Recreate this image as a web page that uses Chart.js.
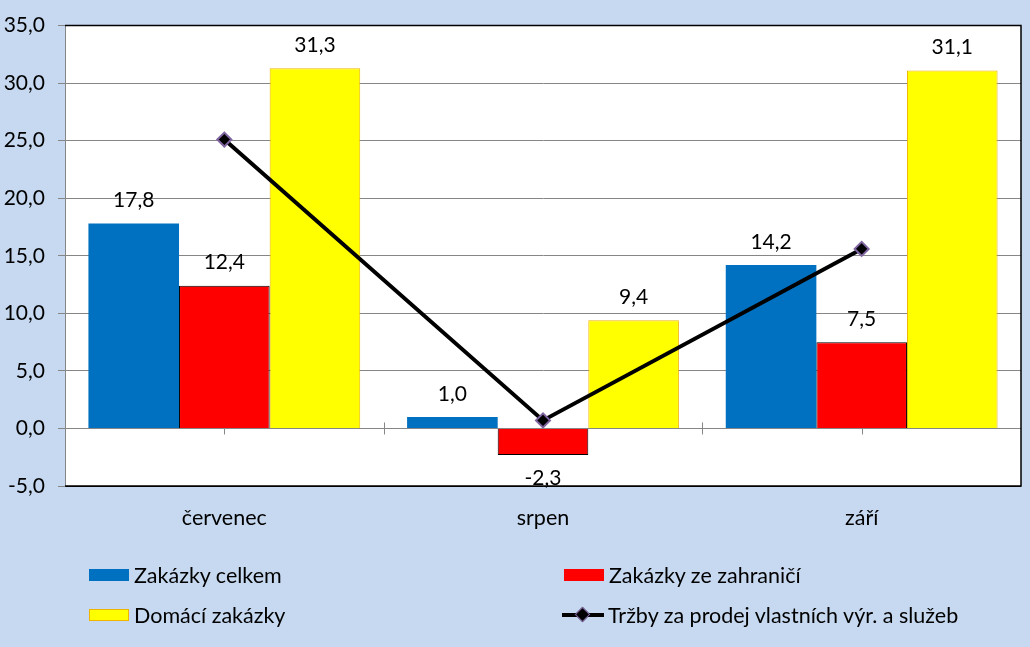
<!DOCTYPE html>
<html>
<head>
<meta charset="utf-8">
<script src="https://cdn.jsdelivr.net/npm/chart.js@4/dist/chart.umd.min.js"></script>
<style>
    body { margin: 0; background: #c6d9f0; }
    #wrap { position: relative; width: 1030px; height: 647px; }
    #legend { position: absolute; left: 0; top: 0; width: 1030px; height: 647px; pointer-events: none;
        font-family: Lato, "Open Sans", sans-serif; font-size: 21.5px; color: #000; }
    .item { position: absolute; display: flex; align-items: center; height: 24px; }
    .sw { width: 40px; height: 12px; margin-right: 5px; box-sizing: border-box; }
    .ln { width: 42px; height: 16px; margin-right: 4px; position: relative; }
    .ln:before { content: ""; position: absolute; left: 0; right: 0; top: 6px; height: 4px; background: #000; }
    .ln:after { content: ""; position: absolute; left: 15px; top: 2px; width: 9px; height: 9px; background: #000;
        border: 1px solid #7f64a0; transform: rotate(45deg); }
</style>
</head>
<body>
<div id="wrap">
    <canvas id="chart" width="1030" height="647"></canvas>
    <div id="legend"></div>
</div>
<script>
const categories = ["červenec", "srpen", "září"];
const zakazkyCelkem = [17.8, 1.0, 14.2];
const zakazkyZahranici = [12.4, -2.3, 7.5];
const domaciZakazky = [31.3, 9.4, 31.1];
const trzby = [25.1, 0.7, 15.6];
const seriesNames = ["Zakázky celkem", "Zakázky ze zahraničí", "Domácí zakázky", "Tržby za prodej vlastních výr. a služeb"];
const yMin = -5, yMax = 35, yStep = 5;

const FONT = 'Lato, "Open Sans", sans-serif';

function fmt(v) {
    return v.toFixed(1).replace(".", ",");
}

// values above/below bars
const barLabels = {
    id: "barLabels",
    afterDatasetsDraw(chart) {
        const ctx = chart.ctx;
        ctx.save();
        ctx.font = "21px " + FONT;
        ctx.fillStyle = "#000";
        ctx.textAlign = "center";
        ctx.textBaseline = "middle";
        chart.data.datasets.forEach((ds, i) => {
            if (ds.type === "line") return;
            chart.getDatasetMeta(i).data.forEach((bar, j) => {
                const v = ds.data[j];
                const y = v >= 0 ? bar.y - 23 : bar.y + 23;
                ctx.fillText(fmt(v), bar.x, y);
            });
        });
        ctx.restore();
    }
};

// black frame right side + small ticks on zero line
const frame = {
    id: "frame",
    beforeDatasetsDraw(chart) {
        const { ctx, chartArea: a, scales } = chart;
        const y0 = scales.y.getPixelForValue(0);
        ctx.save();
        ctx.strokeStyle = "#868686";
        ctx.lineWidth = 1;
        const n = categories.length * 2;
        for (let k = 1; k < n; k++) {
            const x = Math.round(a.left + (a.right - a.left) * k / n) + 0.5;
            ctx.beginPath();
            ctx.moveTo(x, y0 - 6);
            ctx.lineTo(x, y0 + 6);
            ctx.stroke();
        }
        ctx.restore();
    },
    afterDraw(chart) {
        const { ctx, chartArea: a } = chart;
        ctx.save();
        ctx.strokeStyle = "#000";
        ctx.lineWidth = 1.5;
        ctx.beginPath();
        ctx.moveTo(a.left, a.top);
        ctx.lineTo(a.right, a.top);
        ctx.lineTo(a.right, a.bottom);
        ctx.lineTo(a.left, a.bottom);
        ctx.stroke();
        ctx.restore();
    }
};

const whiteArea = {
    id: "whiteArea",
    beforeDraw(chart) {
        const { ctx, chartArea: a } = chart;
        ctx.save();
        ctx.fillStyle = "#fff";
        ctx.fillRect(a.left, a.top, a.right - a.left, a.bottom - a.top);
        ctx.restore();
    }
};

new Chart(document.getElementById("chart"), {
    type: "bar",
    data: {
        labels: categories,
        datasets: [
            {
                type: "line",
                label: seriesNames[3],
                data: trzby,
                borderColor: "#000",
                borderWidth: 4,
                pointStyle: "rectRot",
                pointRadius: 7,
                pointBackgroundColor: "#000",
                pointBorderColor: "#7f64a0",
                pointBorderWidth: 2,
                order: 0
            },
            {
                label: seriesNames[0],
                data: zakazkyCelkem,
                backgroundColor: "#0070c0",
                borderWidth: 0,
                order: 1
            },
            {
                label: seriesNames[1],
                data: zakazkyZahranici,
                backgroundColor: "#ff0000",
                borderColor: "#000",
                borderWidth: 1,
                order: 1
            },
            {
                label: seriesNames[2],
                data: domaciZakazky,
                backgroundColor: "#ffff00",
                borderColor: "#f0b400",
                borderWidth: 1,
                order: 1
            }
        ]
    },
    options: {
        responsive: false,
        animation: false,
        layout: { padding: { top: 25, right: 8, left: 0, bottom: 0 } },
        datasets: {
            bar: { barPercentage: 1, categoryPercentage: 0.853 }
        },
        plugins: {
            legend: { display: false },
            tooltip: { enabled: false }
        },
        scales: {
            x: {
                grid: { display: false, drawTicks: false },
                border: { display: false },
                ticks: { font: { family: FONT, size: 21.5 }, color: "#000", padding: 19 },
                afterFit(s) { s.height = 161; }
            },
            y: {
                min: yMin,
                max: yMax,
                ticks: {
                    stepSize: yStep,
                    font: { family: FONT, size: 21 },
                    color: "#000",
                    padding: 13,
                    callback: v => fmt(v)
                },
                grid: {
                    color: c => (c.tick && (c.tick.value === yMax || c.tick.value === yMin)) ? "#000" : "#868686",
                    tickColor: "#868686",
                    tickLength: 7,
                    lineWidth: 1
                },
                border: { color: "#868686" },
                afterFit(s) { s.width = 65; }
            }
        }
    },
    plugins: [whiteArea, barLabels, frame]
});

// legend in two columns
const legendItems = [
    { name: seriesNames[0], x: 89, y: 563, sw: "background:#0070c0" },
    { name: seriesNames[1], x: 564, y: 563, sw: "background:#ff0000" },
    { name: seriesNames[2], x: 89, y: 603, sw: "background:#ffff00;border:1px solid #f0b400" },
    { name: seriesNames[3], x: 562, y: 603, line: true }
];
const leg = document.getElementById("legend");
legendItems.forEach(it => {
    const d = document.createElement("div");
    d.className = "item";
    d.style.left = it.x + "px";
    d.style.top = it.y + "px";
    const mark = document.createElement("span");
    if (it.line) mark.className = "ln";
    else { mark.className = "sw"; mark.style.cssText = it.sw; }
    d.appendChild(mark);
    const t = document.createElement("span");
    t.textContent = it.name;
    d.appendChild(t);
    leg.appendChild(d);
});
</script>
</body>
</html>
